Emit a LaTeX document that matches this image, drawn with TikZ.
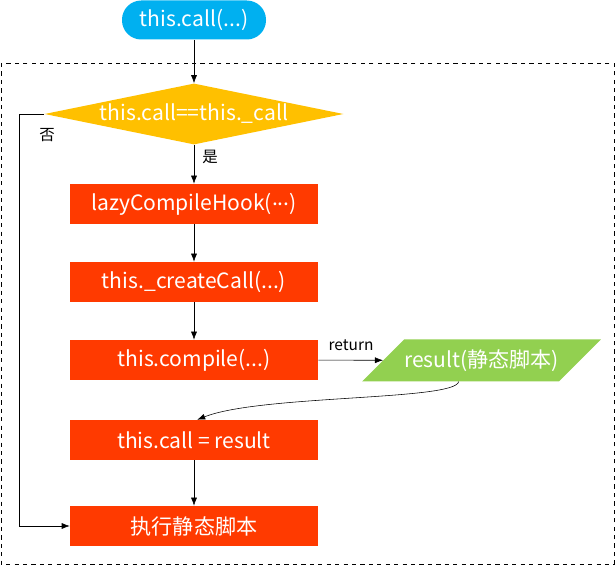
\documentclass[tikz,border=0pt]{standalone}
\usepackage{fontspec}
\setmainfont{Noto Sans CJK SC}
\usepackage{tikz}
\usetikzlibrary{shapes.geometric, arrows.meta, positioning}
\definecolor{startcolor}{RGB}{0,176,240}
\definecolor{checkcolor}{RGB}{255,192,0}
\definecolor{stepcolor}{RGB}{255,58,0}
\definecolor{resultcolor}{RGB}{146,208,80}

\begin{document}
\begin{tikzpicture}[
    terminal/.style={fill=startcolor, rounded corners=0.48cm, minimum width=3.6cm, minimum height=0.975cm, text=white, font=\fontsize{15}{18}\selectfont},
    decision/.style={diamond, fill=checkcolor, minimum width=7.475cm, minimum height=1.525cm, inner sep=0pt},
    process/.style={fill=stepcolor, minimum width=6.2cm, minimum height=1cm, text=white, font=\fontsize{15}{18}\selectfont},
    io/.style={trapezium, trapezium left angle=45, trapezium right angle=135, fill=resultcolor, inner xsep=0pt, inner ysep=0.25cm, text=white, font=\fontsize{15}{18}\selectfont},
    nodetext/.style={text=white, font=\fontsize{15}{18}\selectfont},
    note/.style={font=\fontsize{11}{13}\selectfont},
    flow/.style={-{Latex[length=2mm]}}
]
    \useasboundingbox (0,0) rectangle (15.4,-14.15);

    % Frame
    \draw[dashed] (0.025,-1.575) rectangle (15.35,-14.1);

    % Start
    \node[terminal] (start) at (4.85,-0.5) {this.call(...)};

    % Decision
    \node[decision] (check) at (4.85,-2.85) {};
    \node[nodetext] at (check) {this.call==this.\_call};

    % Steps
    \node[process] (hook) at (4.85,-5.1) {lazyCompileHook(\raisebox{0.45ex}{...})};
    \node[process] (create) at (4.85,-7.05) {this.\_createCall(...)};
    \node[process] (compile) at (4.85,-9) {this.compile(...)};
    \node[process] (assign) at (4.85,-11) {this.call = result};
    \node[process] (run) at (4.85,-13.15) {执行静态脚本};

    % Result
    \node[io] (result) at (12.04,-9.01) {result(静态脚本)};

    % Labels
    \node[note] (nolabel) at (1.175,-3.375) {否};
    \node[note] (yeslabel) at (5.25,-3.925) {是};
    \node[note] (returnlabel) at (8.775,-8.62) {return};

    % Connectors
    \draw[flow] (start) -- (check);
    \draw[flow] (check) -- (hook);
    \draw[flow] (hook) -- (create);
    \draw[flow] (create) -- (compile);
    \draw[flow] (compile) -- (result);
    \draw[flow] ([xshift=-5.75mm]result.south) .. controls +(-0.075,-0.475) and +(1.575,0.625) .. ([xshift=0.08cm]assign.north);
    \draw[flow] (assign) -- (run);
    \draw[flow] (check.west) -- ++(-0.625,0) |- (run.west);
\end{tikzpicture}
\end{document}
